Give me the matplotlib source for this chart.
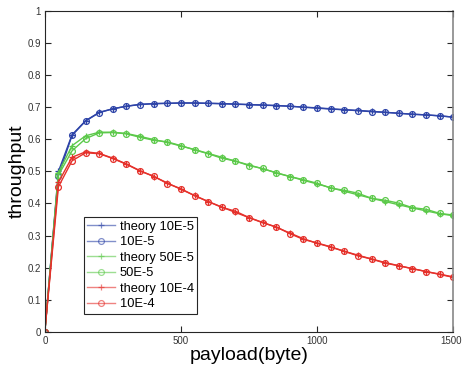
import numpy as np
import matplotlib
matplotlib.use('Agg')
import matplotlib.pyplot as plt
import matplotlib.transforms as mtransforms

plt.rcParams['font.family'] = ['Liberation Sans', 'DejaVu Sans']

# payload in bytes, one point every 50 bytes
payload = np.arange(0, 1501, 50)

# simulation results
sim_10e5 = [0, 0.487, 0.612, 0.657, 0.683, 0.695, 0.703, 0.708, 0.711, 0.712,
            0.713, 0.713, 0.712, 0.711, 0.709, 0.708, 0.707, 0.705, 0.703, 0.700,
            0.697, 0.694, 0.692, 0.689, 0.686, 0.684, 0.681, 0.678, 0.676, 0.673,
            0.669]
sim_50e5 = [0, 0.488, 0.564, 0.602, 0.620, 0.621, 0.617, 0.606, 0.597, 0.592,
            0.580, 0.567, 0.555, 0.541, 0.532, 0.518, 0.509, 0.495, 0.484, 0.474,
            0.463, 0.448, 0.441, 0.432, 0.416, 0.410, 0.401, 0.387, 0.382, 0.369,
            0.364]
sim_10e4 = [0, 0.452, 0.533, 0.558, 0.555, 0.540, 0.522, 0.501, 0.485, 0.462,
            0.446, 0.424, 0.406, 0.388, 0.376, 0.356, 0.340, 0.327, 0.306, 0.288,
            0.277, 0.265, 0.251, 0.237, 0.227, 0.214, 0.206, 0.197, 0.188, 0.180,
            0.171]

# theoretical values
th_10e5 = [0, 0.500, 0.614, 0.658, 0.684, 0.695, 0.703, 0.709, 0.711, 0.712,
           0.713, 0.713, 0.712, 0.711, 0.710, 0.708, 0.706, 0.705, 0.703, 0.700,
           0.698, 0.695, 0.692, 0.690, 0.687, 0.684, 0.681, 0.678, 0.676, 0.673,
           0.669]
th_50e5 = [0, 0.496, 0.580, 0.611, 0.622, 0.622, 0.618, 0.609, 0.599, 0.590,
           0.579, 0.568, 0.556, 0.544, 0.532, 0.520, 0.508, 0.496, 0.484, 0.472,
           0.461, 0.449, 0.438, 0.427, 0.416, 0.406, 0.396, 0.386, 0.377, 0.368,
           0.362]
th_10e4 = [0, 0.466, 0.544, 0.561, 0.556, 0.541, 0.523, 0.502, 0.484, 0.464,
           0.444, 0.425, 0.406, 0.389, 0.372, 0.356, 0.341, 0.326, 0.308, 0.290,
           0.276, 0.264, 0.251, 0.239, 0.227, 0.216, 0.206, 0.197, 0.188, 0.179,
           0.170]

blue = '#2e44a8'
green = '#5cc94a'
red = '#e5312b'

fig = plt.figure(figsize=(4.62, 3.75), dpi=100)
ax = fig.add_axes([0.097, 0.115, 0.884, 0.856])

ax.plot(payload, th_10e5, '-+', color=blue, lw=1.0, ms=5, mew=0.9, label='theory 10E-5')
ax.plot(payload, sim_10e5, '-o', color=blue, lw=1.0, ms=4.2, mew=0.9, mfc='none', label='10E-5')
ax.plot(payload, th_50e5, '-+', color=green, lw=1.0, ms=5, mew=0.9, label='theory 50E-5')
ax.plot(payload, sim_50e5, '-o', color=green, lw=1.0, ms=4.2, mew=0.9, mfc='none', label='50E-5')
ax.plot(payload, th_10e4, '-+', color=red, lw=1.0, ms=5, mew=0.9, label='theory 10E-4')
ax.plot(payload, sim_10e4, '-o', color=red, lw=1.0, ms=4.2, mew=0.9, mfc='none', label='10E-4')

ax.set_xlim(0, 1500)
ax.set_ylim(0, 1)
ax.set_xticks([0, 500, 1000, 1500])
ax.set_yticks(np.arange(0, 1.01, 0.1))
ax.set_yticklabels(['0', '0.1', '0.2', '0.3', '0.4', '0.5', '0.6', '0.7', '0.8', '0.9', '1'])
ax.tick_params(direction='in', top=True, right=True, labelsize=7, length=4, width=0.8, pad=3,
               colors='#262626', labelcolor='#333333')
for s in ['left', 'bottom', 'top']:
    ax.spines[s].set_color('#262626')
ax.spines['right'].set_color('#888888')
ax.spines['right'].set_linewidth(1.2)

# nudge the last x label so it stays inside the figure
last = ax.get_xticklabels()[-1]
last.set_transform(last.get_transform() + mtransforms.ScaledTranslation(-2 / 100, 0, fig.dpi_scale_trans))

ax.set_xlabel('payload(byte)', fontsize=14, labelpad=1)
ax.set_ylabel('throughput', fontsize=14, labelpad=1)

leg = ax.legend(loc='lower left', bbox_to_anchor=(0.095, 0.057), fontsize=9.3, frameon=True,
                fancybox=False, edgecolor='#262626', framealpha=1, borderpad=0.25,
                labelspacing=0.27, handlelength=2.2, handletextpad=0.35, borderaxespad=0)
leg.get_frame().set_linewidth(0.8)
for line in leg.get_lines():
    line.set_alpha(0.6)

fig.savefig('out.png', dpi=100)
